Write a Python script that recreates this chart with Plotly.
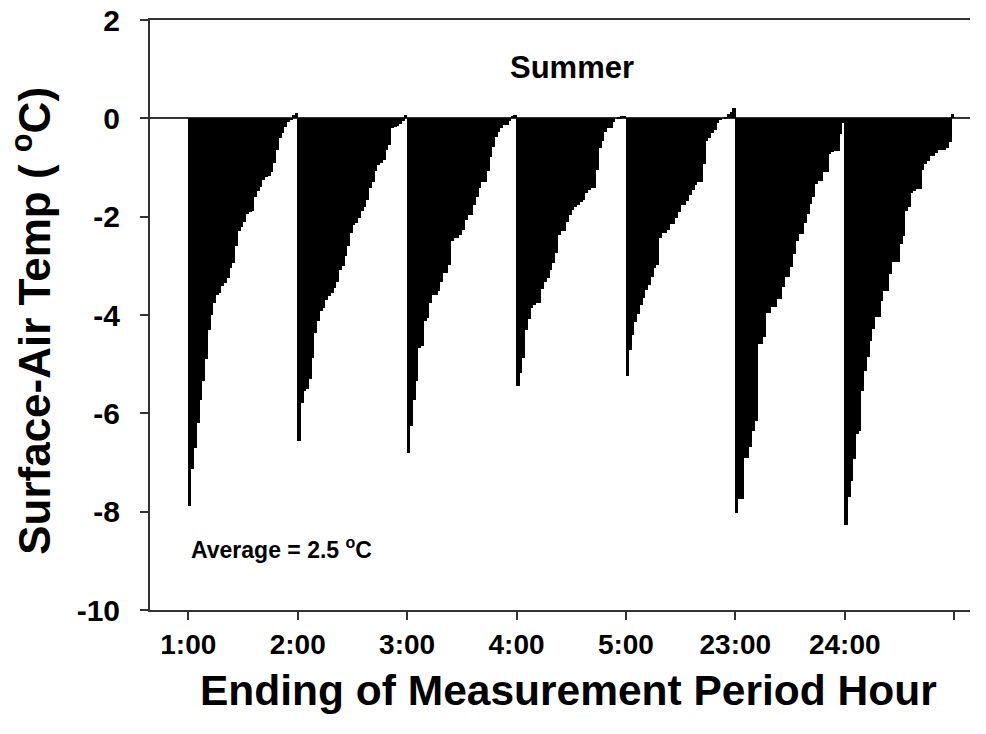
import plotly.graph_objects as go

hours = ["1:00", "2:00", "3:00", "4:00", "5:00", "23:00", "24:00"]
y_ticks = [-10, -8, -6, -4, -2, 0, 2]
y_tick_labels = ["-10", "-8", "-6", "-4", "-2", "0", "2"]

g_0100 = [-7.88, -7.14, -6.70, -6.20, -5.73, -5.35, -4.90, -4.30, -4.00, -3.75,
          -3.60, -3.55, -3.42, -3.35, -3.25, -3.05, -2.95, -2.60, -2.30, -2.22,
          -2.10, -1.95, -1.90, -1.88, -1.60, -1.47, -1.40, -1.25, -1.20, -1.18,
          -1.10, -0.90, -0.64, -0.40, -0.30, -0.18, -0.08, -0.02, 0.07, 0.10]
g_0200 = [-6.56, -5.78, -5.55, -5.50, -5.31, -4.87, -4.36, -4.13, -3.92, -3.85,
          -3.69, -3.62, -3.55, -3.45, -3.32, -3.08, -3.00, -2.80, -2.60, -2.33,
          -2.17, -2.12, -2.03, -1.89, -1.80, -1.66, -1.42, -1.30, -1.08, -0.95,
          -0.90, -0.85, -0.64, -0.55, -0.20, -0.18, -0.15, -0.12, -0.05, 0.07]
g_0300 = [-6.81, -6.26, -5.72, -5.35, -4.67, -4.63, -4.13, -4.06, -3.76, -3.59,
          -3.59, -3.52, -3.32, -3.15, -3.15, -2.98, -2.50, -2.44, -2.44, -2.37,
          -2.27, -2.06, -1.96, -1.96, -1.76, -1.59, -1.42, -1.29, -1.29, -1.08,
          -0.78, -0.58, -0.37, -0.27, -0.20, -0.14, -0.14, -0.05, 0.05, 0.07]
g_0400 = [-5.45, -5.18, -4.87, -4.30, -4.09, -3.86, -3.80, -3.76, -3.76, -3.48,
          -3.32, -3.25, -3.08, -2.94, -2.74, -2.37, -2.30, -2.30, -2.10, -1.96,
          -1.86, -1.80, -1.76, -1.70, -1.66, -1.52, -1.45, -1.42, -1.42, -1.05,
          -0.60, -0.47, -0.27, -0.20, -0.20, -0.07, 0.00, 0.03, 0.05, 0.05]
g_0500 = [-5.25, -4.71, -4.41, -4.14, -3.97, -3.80, -3.66, -3.50, -3.39, -3.22,
          -3.05, -2.98, -2.44, -2.34, -2.34, -2.27, -2.14, -2.14, -2.03, -1.90,
          -1.76, -1.76, -1.69, -1.56, -1.46, -1.36, -1.29, -1.29, -0.92, -0.47,
          -0.41, -0.30, -0.24, -0.10, -0.03, 0.00, 0.02, 0.08, 0.12, 0.22]
g_2300 = [-8.03, -7.74, -7.74, -6.90, -6.90, -6.69, -6.35, -6.15, -4.59, -4.59,
          -4.45, -3.95, -3.95, -3.84, -3.84, -3.67, -3.67, -3.44, -3.23, -3.23,
          -3.03, -2.76, -2.49, -2.35, -2.35, -2.12, -1.95, -1.74, -1.61, -1.34,
          -1.27, -1.27, -1.10, -1.10, -0.73, -0.69, -0.66, -0.66, -0.32, -0.10]
g_2400 = [-8.28, -7.71, -7.37, -6.93, -6.42, -6.35, -5.54, -5.13, -4.86, -4.52,
          -4.28, -4.05, -4.05, -3.71, -3.51, -3.51, -3.17, -2.93, -2.93, -2.93,
          -2.56, -2.39, -1.88, -1.81, -1.51, -1.47, -1.44, -1.44, -1.06, -0.93,
          -0.86, -0.76, -0.76, -0.70, -0.64, -0.64, -0.64, -0.60, -0.49, 0.09]

groups = [g_0100, g_0200, g_0300, g_0400, g_0500, g_2300, g_2400]

xs, ys, ws = [], [], []
for k, vals in enumerate(groups):
    n = len(vals)
    for i, v in enumerate(vals):
        xs.append(k + (i + 0.5) / n)
        ys.append(v)
        ws.append(1.25 / n)  # slight overlap so adjacent bars merge without seams

FONT = "Arial, 'Liberation Sans', Helvetica, sans-serif"
AX = "#333"

fig = go.Figure(go.Bar(
    x=xs, y=ys, width=ws,
    marker=dict(color="black", line=dict(width=0)),
    showlegend=False, hoverinfo="skip",
))

fig.update_layout(
    width=986, height=734,
    margin=dict(l=142, r=24, t=12, b=132, autoexpand=False),
    plot_bgcolor="white", paper_bgcolor="white",
    bargap=0,
    font=dict(family=FONT, color="black", size=27, weight="bold"),
    xaxis=dict(
        range=[-0.35, 7.145],
        tickvals=list(range(len(hours) + 1)),
        ticktext=hours + [""],
        ticks="outside", ticklen=8, tickwidth=2, tickcolor=AX,
        showline=True, linecolor=AX, linewidth=2, mirror=True,
        showgrid=False, zeroline=False, automargin=False,
        ticklabeloverflow="allow",
        tickfont=dict(family=FONT, size=28, weight="bold"),
    ),
    yaxis=dict(
        range=[-10, 2],
        tickvals=y_ticks, ticktext=y_tick_labels,
        ticks="outside", ticklen=8, tickwidth=2, tickcolor=AX,
        showline=True, linecolor=AX, linewidth=2,
        showgrid=False, automargin=False,
        zeroline=True, zerolinecolor=AX, zerolinewidth=1.5,
        ticklabelstandoff=14, ticklabeloverflow="allow",
        tickfont=dict(family=FONT, size=30, weight="bold"),
    ),
    annotations=[
        dict(text="Summer", xref="paper", yref="paper", x=0.515, y=0.919,
             xanchor="center", yanchor="middle", showarrow=False,
             font=dict(family=FONT, size=31, weight="bold")),
        dict(text="Average = 2.5 <sup>o</sup>C", xref="paper", yref="paper",
             x=0.048, y=0.105, xanchor="left", yanchor="middle", showarrow=False,
             font=dict(family=FONT, size=23, weight="bold")),
        dict(text="Ending of Measurement Period Hour", xref="paper", yref="paper",
             x=0.51, y=-0.1356, xanchor="center", yanchor="middle", showarrow=False,
             font=dict(family=FONT, size=42.5, weight="bold")),
        dict(text="Surface-Air Temp ( <sup>o</sup>C)", xref="paper", yref="paper",
             x=-0.144, y=0.49, xanchor="center", yanchor="middle", showarrow=False,
             textangle=-90,
             font=dict(family=FONT, size=44, weight="bold")),
    ],
)

fig.write_html("out.html")
